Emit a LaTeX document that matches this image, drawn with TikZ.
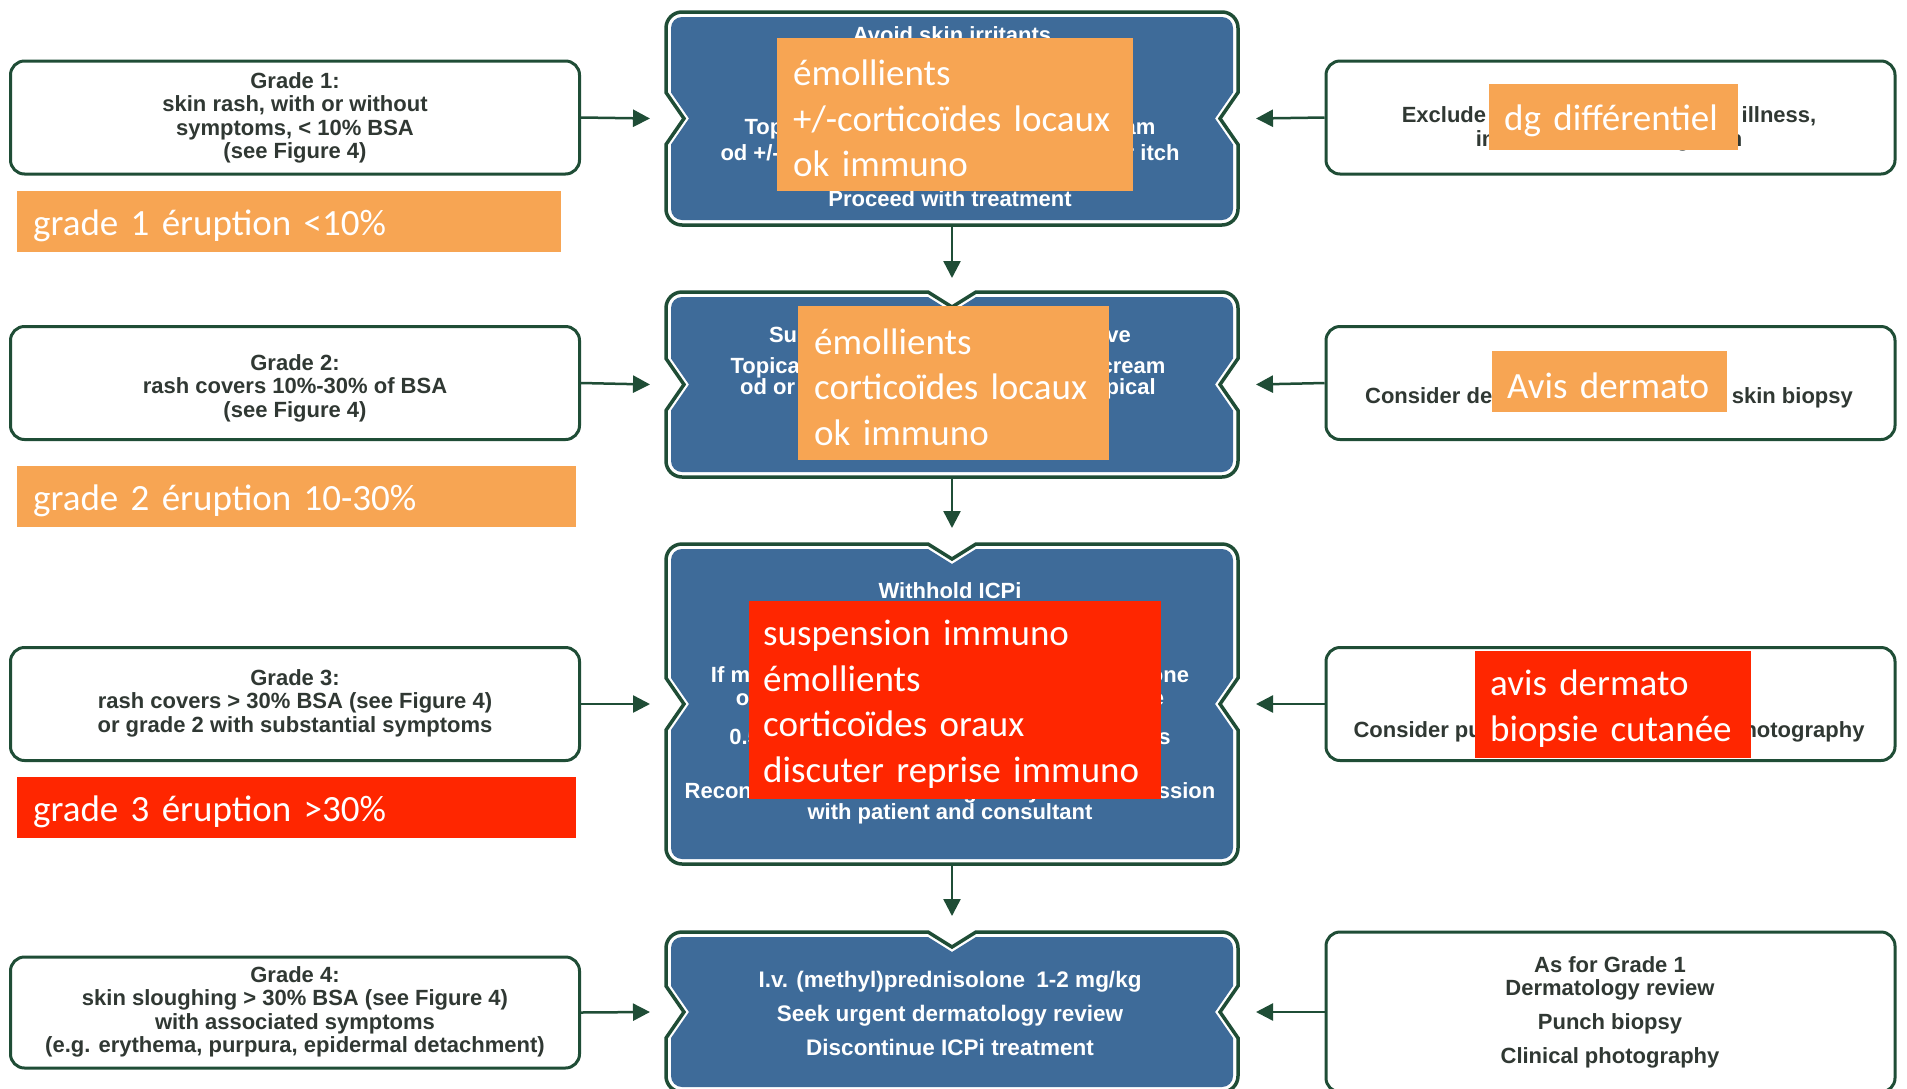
\documentclass[tikz,border=0pt]{standalone}
\usepackage{fontspec}
\setmainfont{Liberation Sans}
\newfontfamily\calib{Carlito}
\usetikzlibrary{arrows.meta}
\definecolor{dkg}{HTML}{1F4D36}
\definecolor{bxb}{HTML}{3E6B99}
\definecolor{ovo}{HTML}{F7A553}
\definecolor{ovr}{HTML}{FF2600}
\definecolor{txg}{HTML}{303833}

% notched box: #1 options, #2 inset, #3 x1, #4 y1, #5 x2, #6 y2 (pixels, y downward), #7 top notch 1/0
\newcommand\nbox[7]{%
 \pgfmathsetmacro\bxL{#3+#2}\pgfmathsetmacro\bxR{#5-#2}%
 \pgfmathsetmacro\bxT{-(#4+#2)}\pgfmathsetmacro\bxB{-(#6-#2)}%
 \pgfmathsetmacro\bxr{16-#2}%
 \pgfmathsetmacro\bxmx{(#3+#5)/2}\pgfmathsetmacro\bxmy{-(#4+#6)/2}%
 \ifnum#7=1 \def\bxtop{-- ({\bxmx-24},\bxT) -- (\bxmx,{\bxT-15}) -- ({\bxmx+24},\bxT)}\else\def\bxtop{}\fi
 \path[#1] ({\bxL+\bxr},\bxT) \bxtop -- ({\bxR-\bxr},\bxT)
   arc[start angle=90,end angle=0,radius=\bxr pt]
   -- (\bxR,{\bxmy+26}) -- ({\bxR-18},\bxmy) -- (\bxR,{\bxmy-26})
   -- (\bxR,{\bxB+\bxr}) arc[start angle=0,end angle=-90,radius=\bxr pt]
   -- ({\bxL+\bxr},\bxB) arc[start angle=-90,end angle=-180,radius=\bxr pt]
   -- (\bxL,{\bxmy-26}) -- ({\bxL+18},\bxmy) -- (\bxL,{\bxmy+26})
   -- (\bxL,{\bxT-\bxr}) arc[start angle=180,end angle=90,radius=\bxr pt] -- cycle;
}
\newcommand\bluebox[5]{%
 \nbox{fill=white,draw=dkg,line width=3.5pt}{0}{#1}{#2}{#3}{#4}{#5}%
 \nbox{fill=bxb}{5}{#1}{#2}{#3}{#4}{#5}%
}
\newcommand\ml[1]{\raisebox{-4pt}[\height][\depth]{#1}}

\begin{document}
\begin{tikzpicture}[x=1pt,y=1pt,
  gbox/.style={draw=dkg, line width=3pt, rounded corners=14pt, fill=white,
    minimum width=569pt, minimum height=113pt, inner sep=0pt},
  gtxt/.style={font=\bfseries\fontsize{22}{23.5}\selectfont, text=txg, align=center, inner sep=0pt},
  wtxt/.style={font=\bfseries\fontsize{22}{23}\selectfont, text=white, align=center, inner sep=0pt},
  arr/.style={draw=dkg, line width=2.5pt, -{Triangle[length=17pt,width=17pt]}},
  ovl/.style={anchor=north west, inner xsep=16pt, inner ysep=0pt, align=left,
    font=\calib\fontsize{37}{45.5}\selectfont, text=white, minimum height=#1}
]
\useasboundingbox (0,0) rectangle (1907,-1088);
\clip (0,0) rectangle (1907,-1088);
\fill[white] (0,0) rectangle (1907,-1088);

% ---------- blue action boxes ----------
\bluebox{666}{12}{1238}{225}{0}
\bluebox{666}{292}{1238}{477}{1}
\bluebox{666}{544}{1238}{864}{1}
\bluebox{666}{932}{1238}{1092}{1}

\coordinate (b1w) at (650,-118.5);  \coordinate (b1e) at (1256,-118.5);
\coordinate (b2w) at (650,-384.5);  \coordinate (b2e) at (1256,-384.5);
\coordinate (b3w) at (650,-704);    \coordinate (b3e) at (1256,-704);
\coordinate (b4w) at (650,-1012);   \coordinate (b4e) at (1256,-1012);
\coordinate (b1s) at (952,-226);    \coordinate (b2n) at (952,-278);
\coordinate (b2s) at (952,-478);    \coordinate (b3n) at (952,-528);
\coordinate (b3s) at (952,-865);    \coordinate (b4n) at (952,-916);

\node[wtxt] (b1a) at (952,-35) {Avoid skin irritants};
\node[wtxt] (b1b) at (950,-129) {Topical emollients + mild steroid cream};
\node[wtxt] (b1c) at (950,-153) {od +/- steroid and oral antihistamine for itch};
\node[wtxt] (b1d) at (950,-199) {Proceed with treatment};

\node[wtxt] (b2a) at (950,-337) {Supportive treatment as per above};
\node[wtxt, font=\bfseries\fontsize{22}{21}\selectfont] (b2b) at (948,-378.5) {Topical moderate-to-strong steroid cream\\od or (potent strength, if severe) topical};

\node[wtxt] (b3a) at (950,-591) {Withhold ICPi};
\node[wtxt] (b3b) at (950,-688) {If moderate-severe, oral (methyl)prednisolone\\or the equivalent i.v. methylprednisolone};
\node[wtxt] (b3c) at (950,-739) {0.5-1 mg/kg for 3 days, wean over 2 weeks};
\node[wtxt, font=\bfseries\fontsize{22}{21}\selectfont] (b3d) at (950,-803.5) {Reconsider ICPi re-challenge only after discussion\\with patient and consultant};

\node[wtxt, font=\bfseries\fontsize{22.5}{34}\selectfont] (b4t) at (950,-1013) {I.v. (methyl)prednisolone\enspace 1-2 mg/kg\\Seek urgent dermatology review\\Discontinue ICPi treatment};

% ---------- grade boxes (left) ----------
\node[gbox] (g1) at (295,-117.5) {};
\node[gtxt] (g1t) at (295,-118) {Grade 1:\\skin rash, with or without\\symptoms, < 10\% BSA\\(see Figure 4)};
\node[gbox] (g2) at (295,-383) {};
\node[gtxt] (g2t) at (295,-388) {Grade 2:\\rash covers 10\%-30\% of BSA\\(see Figure 4)};
\node[gbox] (g3) at (295,-704) {};
\node[gtxt] (g3t) at (295,-703) {Grade 3:\\rash covers > 30\% BSA (see Figure 4)\\or grade 2 with substantial symptoms};
\node[gbox, minimum height=111pt] (g4) at (295,-1012.5) {};
\node[gtxt] (g4t) at (295,-1012) {Grade 4:\\skin sloughing > 30\% BSA (see Figure 4)\\with associated symptoms\\(e.g. erythema, purpura, epidermal detachment)};

% ---------- right boxes ----------
\node[gbox] (r1) at (1610.5,-117.5) {};
\node[gtxt] (r1t) at (1609,-129) {Exclude other causes, e.g., viral illness,\\infection, other drug rash};
\node[gbox] (r2) at (1610.5,-383) {};
\node[gtxt] (r2t) at (1609,-398) {Consider dermatology referral and skin biopsy};
\node[gbox] (r3) at (1610.5,-704) {};
\node[gtxt] (r3t) at (1609,-732) {Consider punch biopsy and clinical photography};
\node[gbox, minimum height=160pt] (r4) at (1610.5,-1012) {};
\node[gtxt] (r4a) at (1610,-978.5) {As for Grade 1\\Dermatology review};
\node[gtxt] (r4b) at (1610,-1024) {Punch biopsy};
\node[gtxt] (r4c) at (1610,-1058) {Clinical photography};

% ---------- connectors ----------
\draw[arr] (g1.east) -- (b1w);
\draw[arr] (g2.east) -- (b2w);
\draw[arr] (g3.east) -- (b3w);
\draw[arr] (g4.east) -- (b4w);
\draw[arr] (r1.west) -- (b1e);
\draw[arr] (r2.west) -- (b2e);
\draw[arr] (r3.west) -- (b3e);
\draw[arr] (r4.west) -- (b4e);
\draw[arr] (b1s) -- (b2n);
\draw[arr] (b2s) -- (b3n);
\draw[arr] (b3s) -- (b4n);

% ---------- French overlays ----------
\node[ovl=61pt, fill=ovo, text width=512pt] (l1) at (17,-191) {\ml{grade 1 éruption <10\%}};
\node[ovl=61pt, fill=ovo, text width=527pt] (l2) at (17,-466) {\ml{grade 2 éruption 10-30\%}};
\node[ovl=61pt, fill=ovr, text width=527pt] (l3) at (17,-777) {\ml{grade 3 éruption >30\%}};
\node[ovl=153pt, fill=ovo, text width=324pt] (o1) at (777,-38) {\ml{émollients}\\\ml{+/-corticoïdes locaux}\\\ml{ok immuno}};
\node[ovl=154pt, fill=ovo, text width=279pt] (o2) at (798,-306) {\ml{émollients}\\\ml{corticoïdes locaux}\\\ml{ok immuno}};
\node[ovl=198pt, fill=ovr, inner xsep=14pt, text width=384pt] (o3) at (749,-601) {\ml{suspension immuno}\\\ml{émollients}\\\ml{corticoïdes oraux}\\\ml{discuter reprise immuno}};
\node[ovl=66pt, fill=ovo, inner xsep=15pt, text width=219pt] (r1o) at (1489,-84) {\ml{dg différentiel}};
\node[ovl=61pt, fill=ovo, inner xsep=15pt, text width=205pt] (r2o) at (1492,-351) {\ml{Avis dermato}};
\node[ovl=107pt, fill=ovr, inner xsep=15pt, text width=246pt] (r3o) at (1475,-651) {\ml{avis dermato}\\\ml{biopsie cutanée}};
\end{tikzpicture}
\end{document}
